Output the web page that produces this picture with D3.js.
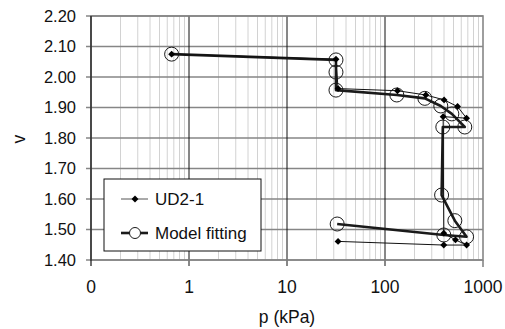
<!DOCTYPE html>
<html>
<head>
<meta charset="utf-8">
<script src="https://cdn.jsdelivr.net/npm/d3@7"></script>
<style>
  html, body { margin: 0; padding: 0; background: #fff; }
  svg { display: block; font-family: 'Liberation Sans', Arial, sans-serif; }
</style>
</head>
<body>
<div id="chart"></div>
<script>
// Measured series (p in kPa, specific volume v)
const udP = [0.665, 31.6, 33.2, 134, 261, 401, 550, 679, 392, 398, 524, 680, 398, 33.2];
const udV = [2.075, 2.058, 1.962, 1.955, 1.941, 1.925, 1.903, 1.865, 1.870, 1.488, 1.466, 1.449, 1.449, 1.461];

// Model fitting series
const modelP = [0.665, 31.6, 31.6, 31.6, 132, 255, 371, 481, 652, 389, 378, 516, 680, 398, 32.5];
const modelV = [2.075, 2.056, 2.016, 1.957, 1.941, 1.930, 1.905, 1.879, 1.836, 1.836, 1.613, 1.529, 1.476, 1.482, 1.518];

const xTickValues = [0.1, 1, 10, 100, 1000];
const xTickLabels = ['0', '1', '10', '100', '1000'];
const yTickValues = [1.4, 1.5, 1.6, 1.7, 1.8, 1.9, 2.0, 2.1, 2.2];

const seriesNames = ['UD2-1', 'Model fitting'];

const drawChart = () => {
  const totalWidth = 505;
  const totalHeight = 329;
  const margin = { top: 16, right: 22, bottom: 69, left: 91 };
  const width = totalWidth - margin.left - margin.right;
  const height = totalHeight - margin.top - margin.bottom;

  const xScale = d3.scaleLog().domain([0.1, 1000]).range([0, width]);
  const yScale = d3.scaleLinear().domain([1.4, 2.2]).range([height, 0]);

  const svg = d3
    .select('#chart')
    .append('svg')
    .attr('width', totalWidth)
    .attr('height', totalHeight)
    .append('g')
    .attr('transform', `translate(${margin.left}, ${margin.top})`);

  // minor vertical gridlines (2..9 in each decade)
  const minor = [];
  for (let e = -1; e < 3; e++) {
    for (let k = 2; k <= 9; k++) minor.push(k * Math.pow(10, e));
  }
  svg
    .append('g')
    .selectAll('line')
    .data(minor)
    .join('line')
    .attr('x1', (d) => xScale(d))
    .attr('x2', (d) => xScale(d))
    .attr('y1', 0)
    .attr('y2', height)
    .attr('stroke', '#d2d2d2')
    .attr('stroke-width', 1);

  // horizontal gridlines
  svg
    .append('g')
    .selectAll('line')
    .data(yTickValues)
    .join('line')
    .attr('x1', -5)
    .attr('x2', width)
    .attr('y1', (d) => yScale(d))
    .attr('y2', (d) => yScale(d))
    .attr('stroke', '#868686')
    .attr('stroke-width', 1.6);

  // decade gridlines
  svg
    .append('g')
    .selectAll('line')
    .data(xTickValues.slice(1, 4))
    .join('line')
    .attr('x1', (d) => xScale(d))
    .attr('x2', (d) => xScale(d))
    .attr('y1', 0)
    .attr('y2', height + 6)
    .attr('stroke', '#111')
    .attr('stroke-width', 1);

  // plot border
  svg
    .append('rect')
    .attr('x', 0)
    .attr('y', 0)
    .attr('width', width)
    .attr('height', height)
    .attr('fill', 'none')
    .attr('stroke', '#868686')
    .attr('stroke-width', 1.6);

  // left axis line + end ticks
  svg
    .append('line')
    .attr('x1', 0)
    .attr('x2', 0)
    .attr('y1', 0)
    .attr('y2', height + 6)
    .attr('stroke', '#111')
    .attr('stroke-width', 1.2);
  svg
    .append('line')
    .attr('x1', width)
    .attr('x2', width)
    .attr('y1', height)
    .attr('y2', height + 7)
    .attr('stroke', '#868686')
    .attr('stroke-width', 1.6);

  // y tick labels
  svg
    .append('g')
    .selectAll('text')
    .data(yTickValues)
    .join('text')
    .attr('x', -15)
    .attr('y', (d) => yScale(d))
    .attr('dy', '0.36em')
    .attr('text-anchor', 'end')
    .attr('font-size', 16.5)
    .attr('fill', '#111')
    .text((d) => d.toFixed(2));

  // x tick labels
  svg
    .append('g')
    .selectAll('text')
    .data(xTickValues)
    .join('text')
    .attr('x', (d) => xScale(d))
    .attr('y', height + 33)
    .attr('text-anchor', 'middle')
    .attr('font-size', 17.5)
    .attr('fill', '#111')
    .text((d, i) => xTickLabels[i]);

  // axis labels
  svg
    .append('text')
    .attr('x', width / 2)
    .attr('y', height + 63)
    .attr('text-anchor', 'middle')
    .attr('font-size', 17.5)
    .attr('fill', '#111')
    .text('p (kPa)');

  svg
    .append('text')
    .attr('transform', `translate(${-72}, ${height / 2 + 1}) rotate(-90)`)
    .attr('text-anchor', 'middle')
    .attr('dy', '0.36em')
    .attr('font-size', 17.5)
    .attr('fill', '#111')
    .text('v');

  const lineGen = d3
    .line()
    .x((d) => xScale(d[0]))
    .y((d) => yScale(d[1]));

  const udData = udP.map((p, i) => [p, udV[i]]);
  const modelData = modelP.map((p, i) => [p, modelV[i]]);

  // Model fitting: thick line with open circles
  svg
    .append('path')
    .datum(modelData)
    .attr('d', lineGen)
    .attr('fill', 'none')
    .attr('stroke', '#1a1a1a')
    .attr('stroke-width', 2.6)
    .attr('stroke-linejoin', 'round');

  svg
    .append('g')
    .selectAll('circle')
    .data(modelData)
    .join('circle')
    .attr('cx', (d) => xScale(d[0]))
    .attr('cy', (d) => yScale(d[1]))
    .attr('r', 7)
    .attr('fill', 'none')
    .attr('stroke', '#1a1a1a')
    .attr('stroke-width', 1);

  // UD2-1: thin line with diamonds
  svg
    .append('path')
    .datum(udData)
    .attr('d', lineGen)
    .attr('fill', 'none')
    .attr('stroke', '#111')
    .attr('stroke-width', 1);

  const diamond = d3.symbol().type(d3.symbolSquare).size(24);
  svg
    .append('g')
    .selectAll('path')
    .data(udData)
    .join('path')
    .attr('d', diamond)
    .attr('transform', (d) => `translate(${xScale(d[0])}, ${yScale(d[1])}) rotate(45)`)
    .attr('fill', '#000');

  // Legend
  const legend = svg.append('g').attr('transform', `translate(${104 - margin.left}, ${179 - margin.top})`);
  legend
    .append('rect')
    .attr('width', 157)
    .attr('height', 72)
    .attr('fill', '#fff')
    .attr('stroke', '#111')
    .attr('stroke-width', 1);

  legend
    .append('line')
    .attr('x1', 17)
    .attr('x2', 44)
    .attr('y1', 20)
    .attr('y2', 20)
    .attr('stroke', '#555')
    .attr('stroke-width', 1);
  legend
    .append('path')
    .attr('d', diamond)
    .attr('transform', 'translate(31, 20) rotate(45)')
    .attr('fill', '#000');

  legend
    .append('line')
    .attr('x1', 17)
    .attr('x2', 44)
    .attr('y1', 54)
    .attr('y2', 54)
    .attr('stroke', '#1a1a1a')
    .attr('stroke-width', 2.6);
  legend
    .append('circle')
    .attr('cx', 31)
    .attr('cy', 54)
    .attr('r', 5.5)
    .attr('fill', '#fff')
    .attr('stroke', '#1a1a1a')
    .attr('stroke-width', 1);

  legend
    .selectAll('text')
    .data(seriesNames)
    .join('text')
    .attr('x', 51)
    .attr('y', (d, i) => 20 + i * 34)
    .attr('dy', '0.36em')
    .attr('font-size', 17)
    .attr('fill', '#111')
    .text((d) => d);
};

drawChart();
</script>
</body>
</html>
